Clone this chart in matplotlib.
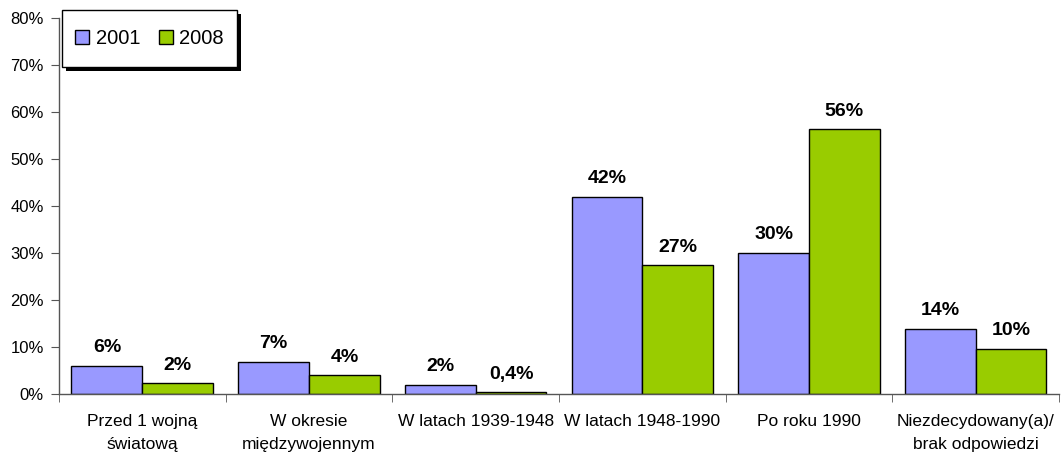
import matplotlib
matplotlib.use("Agg")
import matplotlib.pyplot as plt
import numpy as np
from matplotlib.ticker import FuncFormatter, FixedLocator
from matplotlib.patches import Rectangle

plt.rcParams['font.family'] = ['Liberation Sans', 'DejaVu Sans']

categories = ["Przed 1 wojną\nświatową", "W okresie\nmiędzywojennym", "W latach 1939-1948",
              "W latach 1948-1990", "Po roku 1990", "Niezdecydowany(a)/\nbrak odpowiedzi"]
series_names = ["2001", "2008"]
values_2001 = [6.1, 6.9, 2.0, 42.0, 30.0, 13.9]
values_2008 = [2.3, 4.0, 0.4, 27.4, 56.3, 9.6]
labels_2001 = ["6%", "7%", "2%", "42%", "30%", "14%"]
labels_2008 = ["2%", "4%", "0,4%", "27%", "56%", "10%"]
colors = ["#9999FF", "#99CC00"]

W, H = 1061, 457
fig = plt.figure(figsize=(W/100, H/100), dpi=100)
ax = fig.add_axes([59/W, 1-394.3/H, (1059-59)/W, (394.3-18)/H])

x = np.arange(len(categories))
w = 0.425
b1 = ax.bar(x - w/2, values_2001, w, color=colors[0], edgecolor="black", linewidth=1, label=series_names[0])
b2 = ax.bar(x + w/2, values_2008, w, color=colors[1], edgecolor="black", linewidth=1, label=series_names[1])

for bars, labs in ((b1, labels_2001), (b2, labels_2008)):
    for bar, lab in zip(bars, labs):
        ax.annotate(lab, (bar.get_x() + bar.get_width()/2, bar.get_height()),
                    xytext=(0, 7), textcoords="offset points", ha="center", va="bottom",
                    fontsize=14, fontweight="bold")

ax.set_xlim(-0.5, len(categories) - 0.5)
ax.set_ylim(0, 80)
ax.set_yticks(np.arange(0, 81, 10))
ax.yaxis.set_major_formatter(FuncFormatter(lambda v, p: f"{int(v)}%"))
ax.set_xticks(x)
ax.set_xticklabels(categories, fontsize=12.5, linespacing=1.65)
ax.tick_params(axis="x", which="major", length=0, pad=14.5)
ax.xaxis.set_minor_locator(FixedLocator(np.arange(-0.5, len(categories), 1.0)))
ax.tick_params(axis="x", which="minor", length=6, color="#555555", direction="out")
ax.tick_params(axis="y", length=6, color="#555555", labelsize=12, direction="out", pad=5)

for s in ("top", "right"):
    ax.spines[s].set_visible(False)
for s in ("left", "bottom"):
    ax.spines[s].set_color("#555555")
    ax.spines[s].set_linewidth(1)

# legend box (frame + solid black shadow), in pixel-based figure coordinates
lx0, ly0, lx1, ly1 = 62, 10, 237, 67
shadow = Rectangle(((lx0 + 4)/W, 1 - (ly1 + 4)/H), (lx1 - lx0)/W, (ly1 - ly0)/H,
                   transform=fig.transFigure, facecolor="black", edgecolor="none", zorder=4)
frame = Rectangle((lx0/W, 1 - ly1/H), (lx1 - lx0)/W, (ly1 - ly0)/H,
                  transform=fig.transFigure, facecolor="white", edgecolor="black", linewidth=1, zorder=5)
fig.add_artist(shadow)
fig.add_artist(frame)

leg = ax.legend(loc="center", bbox_to_anchor=((lx0 + lx1)/2/W, 1 - (ly0 + ly1)/2/H),
                bbox_transform=fig.transFigure,
                ncol=2, fontsize=14.5, frameon=False,
                handlelength=0.7, handleheight=0.7, handletextpad=0.33, columnspacing=0.9,
                borderpad=0, borderaxespad=0)
leg.set_zorder(6)
leg.remove()
fig.add_artist(leg)

fig.savefig("out.png", dpi=100)
